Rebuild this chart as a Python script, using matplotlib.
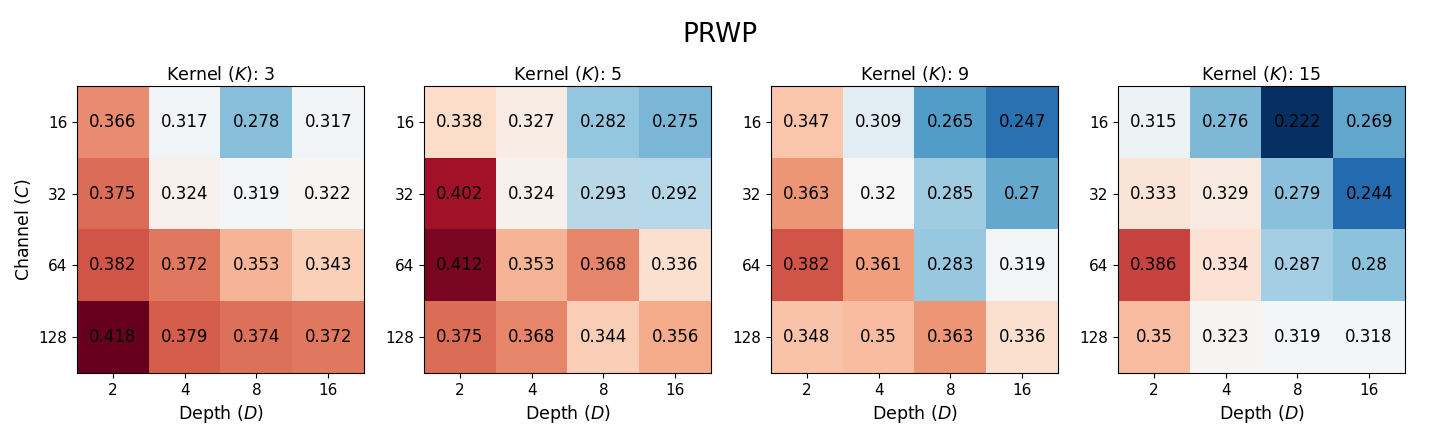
import matplotlib
matplotlib.use("Agg")
import matplotlib.pyplot as plt
import numpy as np

# Data
kernels = [3, 5, 9, 15]
channels = ["16", "32", "64", "128"]
depths = ["2", "4", "8", "16"]

k3 = [[0.366, 0.317, 0.278, 0.317],
      [0.375, 0.324, 0.319, 0.322],
      [0.382, 0.372, 0.353, 0.343],
      [0.418, 0.379, 0.374, 0.372]]
k5 = [[0.338, 0.327, 0.282, 0.275],
      [0.402, 0.324, 0.293, 0.292],
      [0.412, 0.353, 0.368, 0.336],
      [0.375, 0.368, 0.344, 0.356]]
k9 = [[0.347, 0.309, 0.265, 0.247],
      [0.363, 0.32, 0.285, 0.27],
      [0.382, 0.361, 0.283, 0.319],
      [0.348, 0.35, 0.363, 0.336]]
k15 = [[0.315, 0.276, 0.222, 0.269],
       [0.333, 0.329, 0.279, 0.244],
       [0.386, 0.334, 0.287, 0.28],
       [0.35, 0.323, 0.319, 0.318]]

panels = [k3, k5, k9, k15]

# shared colour scale across all four panels
vmin = min(np.min(p) for p in panels)
vmax = max(np.max(p) for p in panels)

fig = plt.figure(figsize=(14.4, 4.32), dpi=100)
fig.suptitle("PRWP", fontsize=19, y=0.948)

lefts = [77, 424, 771, 1118]
for i, (k, vals) in enumerate(zip(kernels, panels)):
    ax = fig.add_axes([lefts[i] / 1440, 59 / 432, 287 / 1440, 287 / 432])
    arr = np.array(vals)
    ax.imshow(arr, cmap="RdBu_r", vmin=vmin, vmax=vmax, aspect="auto")
    for r in range(arr.shape[0]):
        for c in range(arr.shape[1]):
            ax.text(c, r, f"{arr[r, c]:g}", ha="center", va="center",
                    fontsize=12, color="black")
    ax.set_xticks(range(len(depths)))
    ax.set_xticklabels(depths, fontsize=11)
    ax.set_yticks(range(len(channels)))
    ax.set_yticklabels(channels, fontsize=11)
    ax.set_title(f"Kernel ($K$): {k}", fontsize=12.5, pad=4)
    ax.set_xlabel("Depth ($D$)", fontsize=12.5)
    if i == 0:
        ax.set_ylabel("Channel ($C$)", fontsize=12.5)

fig.savefig("out.png", dpi=100)
